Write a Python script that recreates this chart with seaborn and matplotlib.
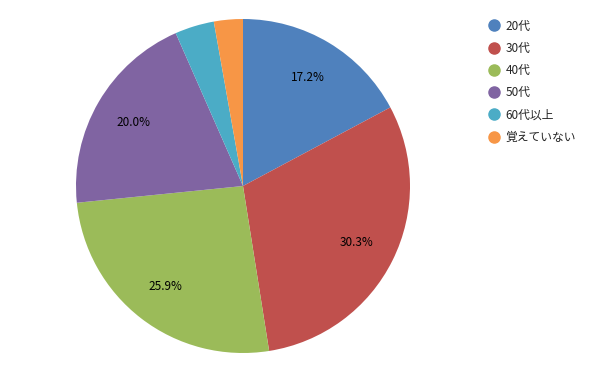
import matplotlib
matplotlib.use("Agg")
import matplotlib.pyplot as plt
from matplotlib.lines import Line2D
import seaborn as sns

categories = ["20代", "30代", "40代", "50代", "60代以上", "覚えていない"]
values = [17.2, 30.3, 25.9, 20.0, 3.8, 2.8]
colors = sns.color_palette(["#4F81BD", "#C0504D", "#9BBB59", "#8064A2", "#4BACC6", "#F79646"])

sns.set_style("white")
plt.rcParams['font.family'] = ['Noto Sans CJK JP', 'DejaVu Sans']

fig = plt.figure(figsize=(6, 3.71), dpi=100)
ax = fig.add_axes([76/600, 18/371, 334/600, 334/371])

def fmt(p):
    return f"{p:.1f}%" if p >= 5 else ""

ax.pie(values, colors=colors, startangle=90, counterclock=False,
       autopct=fmt, pctdistance=0.76,
       textprops={'fontsize': 8.5, 'color': 'black'},
       wedgeprops={'linewidth': 0})
ax.set_xlim(-1, 1)
ax.set_ylim(-1, 1)
ax.set_aspect('equal')
ax.axis('off')

handles = [Line2D([0], [0], marker='o', linestyle='', markersize=8,
                  markerfacecolor=c, markeredgecolor=c) for c in colors]
fig.legend(handles, categories, loc='upper left', bbox_to_anchor=(476/600, 1 - 9/371),
           frameon=False, fontsize=8.5, handletextpad=0.4, labelspacing=0.78,
           handlelength=1.2)

fig.savefig("out.png", dpi=100)
